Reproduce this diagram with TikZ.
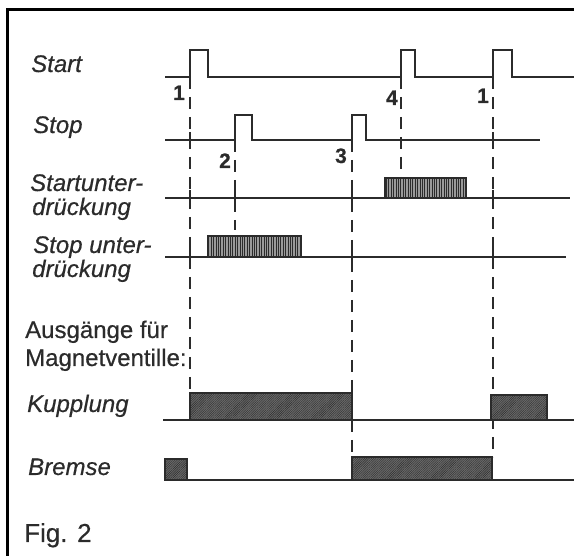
\documentclass[tikz,border=0pt]{standalone}
\usepackage{fontspec}
\setmainfont{Liberation Sans}[FakeBold=0.5]
\usetikzlibrary{patterns.meta}
\definecolor{inkgrey}{HTML}{2b2b2b}
\definecolor{bargrey}{HTML}{9a9a9a}
\definecolor{outgrey}{HTML}{6a6a6a}
\tikzset{
  signal/.style={draw=inkgrey, line width=1.6pt, line join=miter},
  guide/.style={draw=inkgrey, line width=1.4pt, dash pattern=on 12pt off 8pt},
  crossing/.style={draw=inkgrey, line width=1.4pt},
  blockbar/.style={draw=inkgrey, line width=1.8pt, preaction={fill=bargrey},
                   pattern={Lines[angle=90, distance=2.4pt, line width=0.9pt]}, pattern color=inkgrey},
  outbar/.style={draw=inkgrey, line width=1.8pt, preaction={fill=outgrey},
                 pattern={Lines[angle=45, distance=1.6pt, line width=0.4pt]}, pattern color=inkgrey},
  siglabel/.style={anchor=base west, inner sep=0pt, text=inkgrey,
                   font=\fontsize{24}{28}\selectfont\itshape},
  headlabel/.style={anchor=base west, inner sep=0pt, text=inkgrey,
                    font=\fontsize{24}{28}\selectfont},
  evnum/.style={anchor=base east, inner sep=0pt, text=inkgrey,
                font=\fontsize{21}{24}\selectfont\bfseries},
  frameline/.style={draw=black, line width=3pt},
}
\begin{document}
\begin{tikzpicture}[x=1pt, y=-1pt]
  \useasboundingbox (0,0) rectangle (574,556);
  \draw[frameline] (7,556) -- (7,10) -- (574,10);

  % signal names
  \node[siglabel] (lstart) at (31,72) {Start};
  \node[siglabel] (lstop) at (33,133) {Stop};
  \node[siglabel] (lsu1) at (30,191) {Startunter-};
  \node[siglabel] (lsu2) at (32,215) {drückung};
  \node[siglabel] (ltu1) at (33,253) {Stop unter-};
  \node[siglabel] (ltu2) at (32,277) {drückung};
  \node[headlabel] (lout1) at (25,338) {Ausgänge für};
  \node[headlabel] (lout2) at (25,366) {Magnetventille:};
  \node[siglabel] (lkup) at (27,412) {Kupplung};
  \node[siglabel] (lbrm) at (28,475) {Bremse};
  \node[headlabel, font=\fontsize{26}{28}\selectfont] (lfig) at (24,542) {Fig. 2};

  % guide lines
  \draw[guide] (190,77) -- (190,393);
  \draw[guide] (235,140) -- (235,230);
  \draw[guide] (352,140) -- (352,457);
  \draw[guide] (401,77) -- (401,178);
  \draw[guide] (493,77) -- (493,457);
  \foreach \gx/\gy in {190/140, 190/198, 190/257, 235/198, 352/198, 352/257,
                       493/140, 493/198, 493/257}
    \draw[crossing] (\gx,\gy-8) -- (\gx,\gy+8);

  % events
  \node[evnum] (ev1) at (185,100) {1};
  \node[evnum] (ev2) at (231,168) {2};
  \node[evnum] (ev3) at (347,163) {3};
  \node[evnum] (ev4) at (398,105) {4};
  \node[evnum] (ev5) at (489,103) {1};

  % inputs
  \draw[signal] (165,77) -- (190,77) -- (190,50) -- (208,50) -- (208,77) -- (401,77)
    -- (401,50) -- (415,50) -- (415,77) -- (493,77) -- (493,50) -- (512,50) -- (512,77) -- (574,77);
  \draw[signal] (165,140) -- (235,140) -- (235,115) -- (252,115) -- (252,140) -- (352,140)
    -- (352,115) -- (366,115) -- (366,140) -- (540,140);

  % suppression
  \draw[signal] (165,198) -- (570,198);
  \draw[blockbar] (385,178) rectangle (466,198);
  \draw[signal] (165,257) -- (566,257);
  \draw[blockbar] (208,236) rectangle (301,257);

  % outputs
  \draw[signal] (163,420) -- (574,420);
  \draw[outbar] (190,393) rectangle (352,420);
  \draw[outbar] (491,395) rectangle (547,420);
  \draw[signal] (187,480) -- (574,480);
  \draw[outbar] (165,459) rectangle (187,480);
  \draw[outbar] (352,457) rectangle (492,480);
\end{tikzpicture}
\end{document}
